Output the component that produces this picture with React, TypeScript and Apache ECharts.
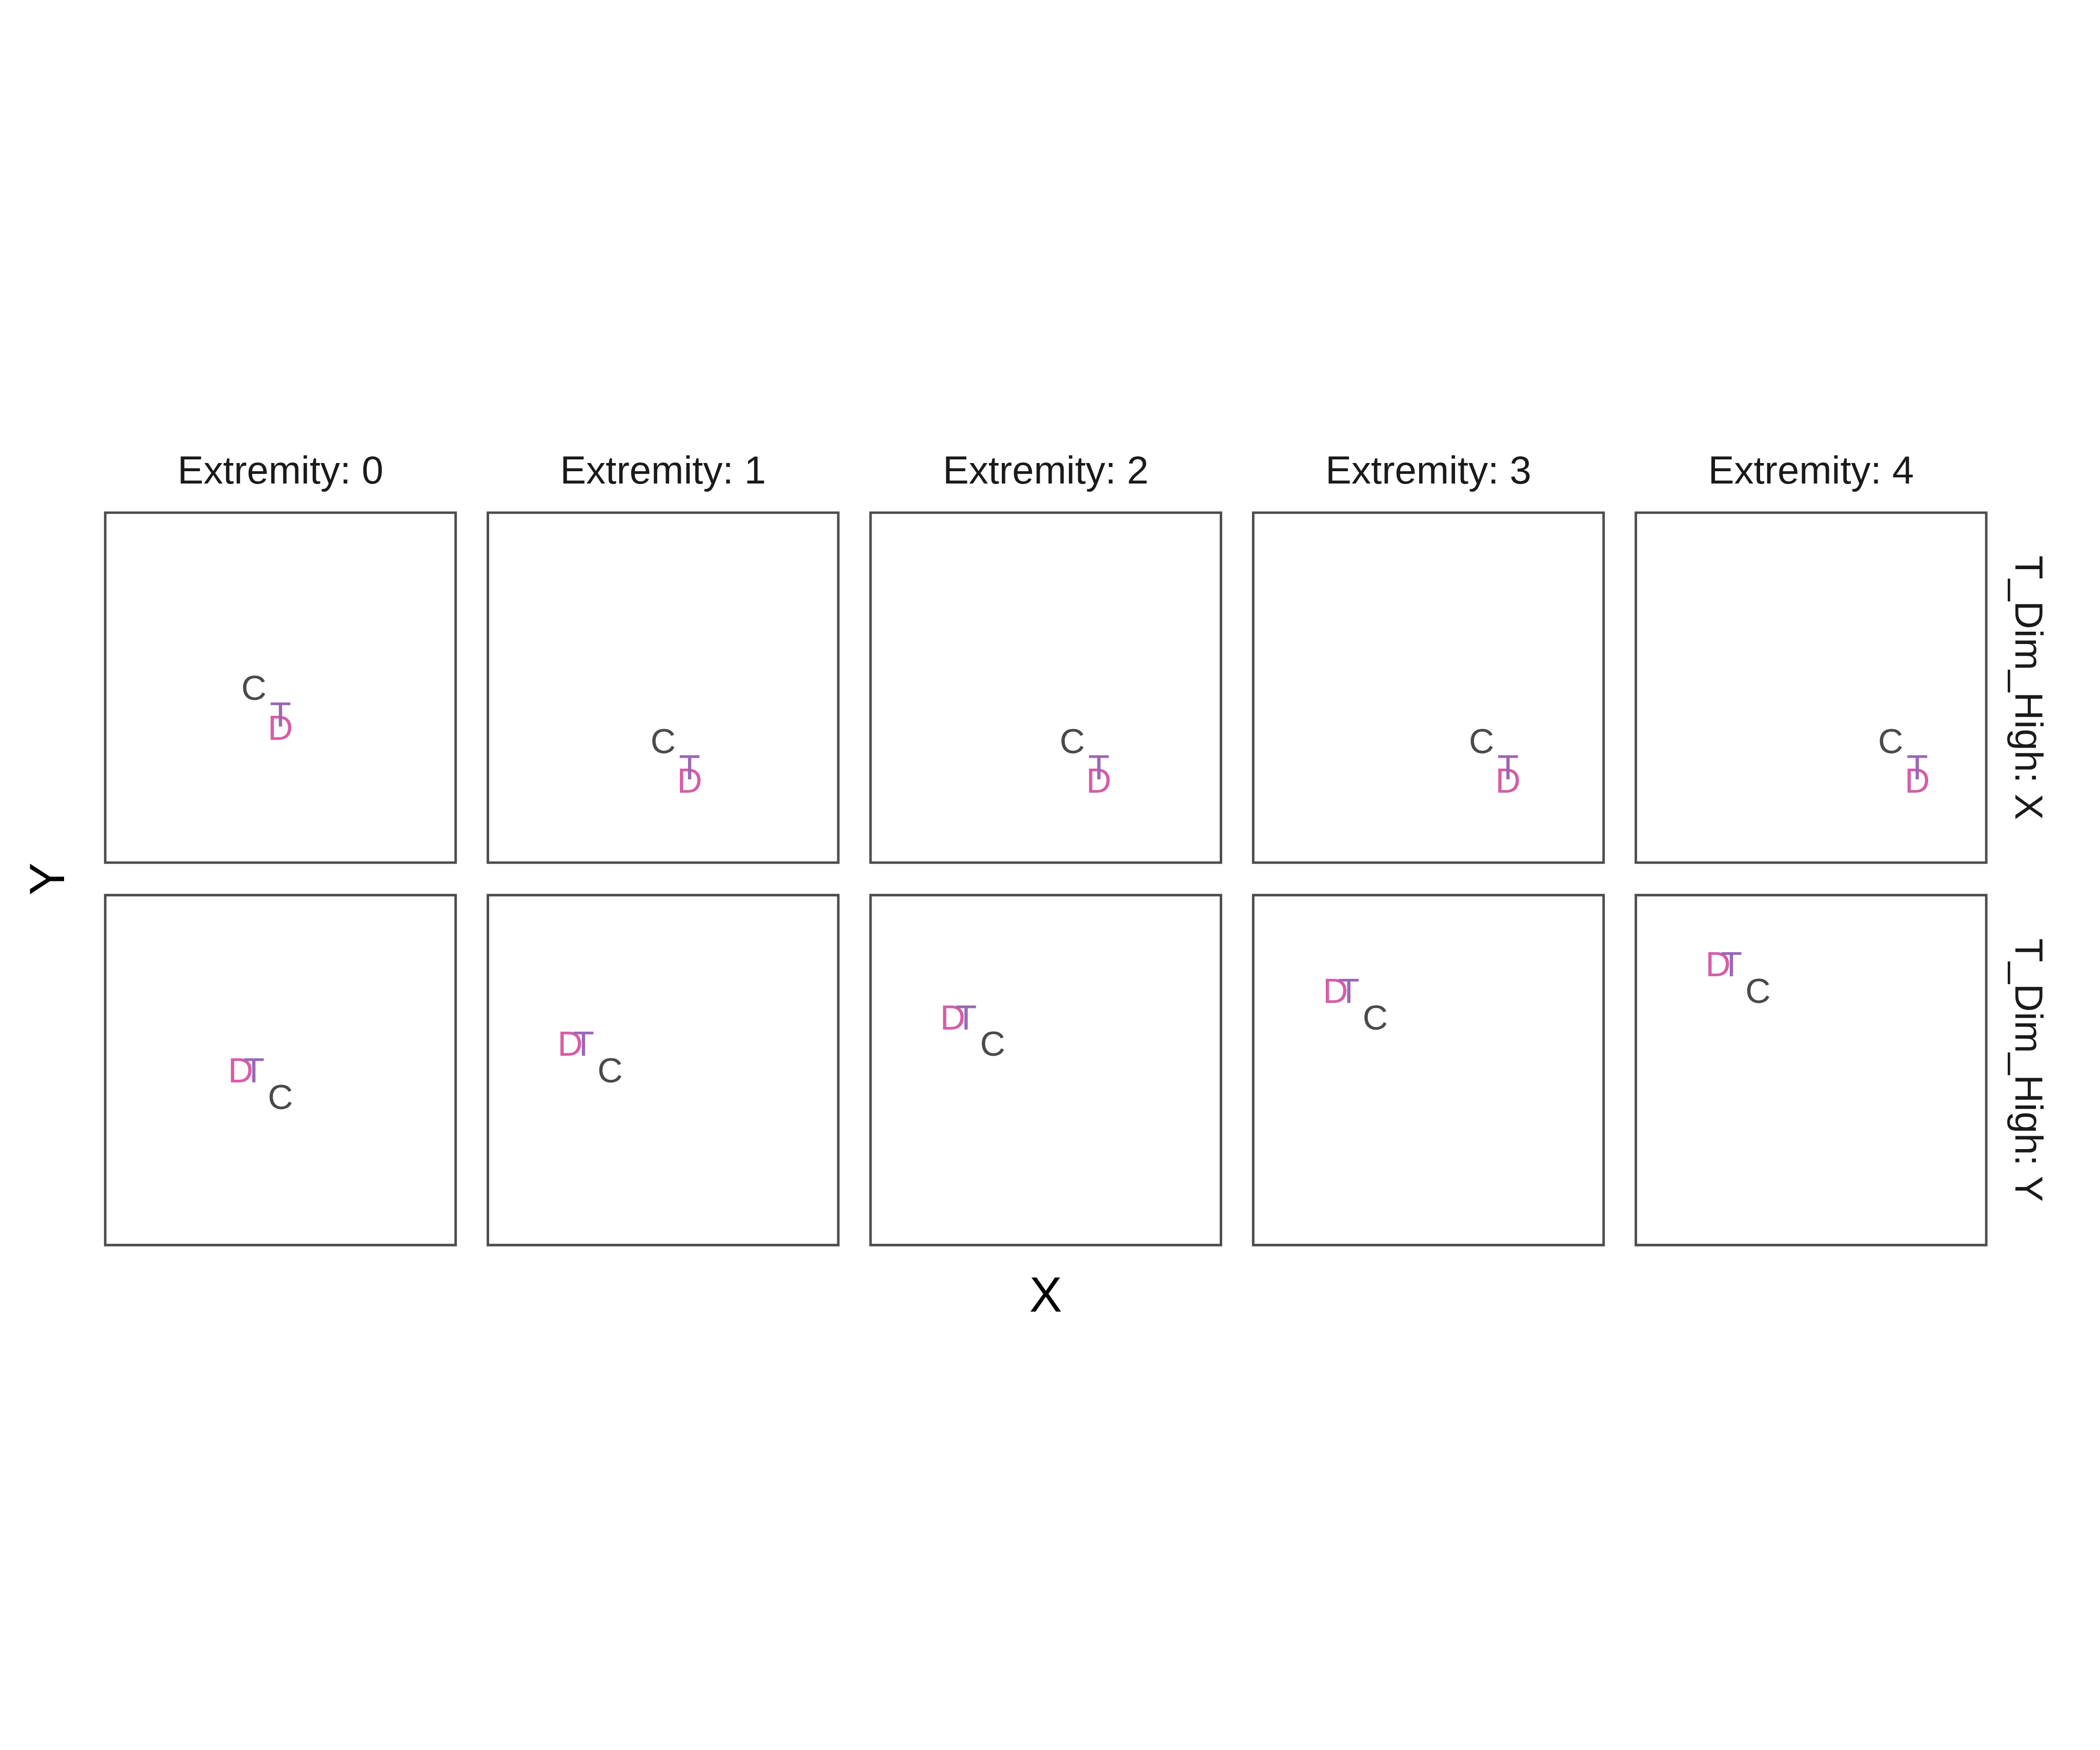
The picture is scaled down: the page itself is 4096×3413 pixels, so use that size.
import React, { useEffect, useRef } from "react";
import * as echarts from "echarts";

// Facets
const extremities = [0, 1, 2, 3, 4];
const rowLevels = ["X", "Y"];
const axisLimits = [0, 12];

// Row "T_Dim_High: X"
const targetX_dimX = [6, 7, 8, 9, 10];
const targetY_dimX = [5, 3, 3, 3, 3];
const compX_dimX = [5, 6, 7, 8, 9];
const compY_dimX = [6, 4, 4, 4, 4];
const decoyX_dimX = [6, 7, 8, 9, 10];
const decoyY_dimX = [4.5, 2.5, 2.5, 2.5, 2.5];

// Row "T_Dim_High: Y"
const targetX_dimY = [5, 3, 3, 3, 3];
const targetY_dimY = [6, 7, 8, 9, 10];
const compX_dimY = [6, 4, 4, 4, 4];
const compY_dimY = [5, 6, 7, 8, 9];
const decoyX_dimY = [4.5, 2.5, 2.5, 2.5, 2.5];
const decoyY_dimY = [6, 7, 8, 9, 10];

const optionLetters = ["D", "T", "C"];
const optionColors = ["#D65DA8", "#9A68B3", "#4A4A4A"];

const S = 0.975;
const FONT = '"Liberation Sans", Arial, Helvetica, sans-serif';

export default function App() {
  const ref = useRef<HTMLDivElement>(null);
  useEffect(() => {
    if (!ref.current) return;
    const chart = echarts.init(ref.current, undefined, { renderer: "svg" });

    const colLeft = (i: number) => (210.5 + 765.5 * i) * S;
    const rowTop = (j: number) => (1025.5 + 765 * j) * S;
    const panelW = 701 * S;
    const panelH = 700 * S;
    const span = axisLimits[1] - axisLimits[0];
    const amin = axisLimits[0] - span * 0.05;
    const amax = axisLimits[1] + span * 0.05;

    const rowData = [
      [
        [decoyX_dimX, decoyY_dimX],
        [targetX_dimX, targetY_dimX],
        [compX_dimX, compY_dimX],
      ],
      [
        [decoyX_dimY, decoyY_dimY],
        [targetX_dimY, targetY_dimY],
        [compX_dimY, compY_dimY],
      ],
    ];

    const grid: any[] = [];
    const xAxis: any[] = [];
    const yAxis: any[] = [];
    const series: any[] = [];
    let idx = 0;
    rowLevels.forEach((_, j) => {
      extremities.forEach((_e, i) => {
        grid.push({
          left: colLeft(i),
          top: rowTop(j),
          width: panelW,
          height: panelH,
          show: true,
          borderColor: "#4D4D4D",
          borderWidth: 5 * S,
          backgroundColor: "transparent",
          containLabel: false,
        });
        xAxis.push({ gridIndex: idx, type: "value", min: amin, max: amax, show: false });
        yAxis.push({ gridIndex: idx, type: "value", min: amin, max: amax, show: false });
        optionLetters.forEach((letter, k) => {
          const [xs, ys] = rowData[j][k];
          series.push({
            type: "scatter",
            xAxisIndex: idx,
            yAxisIndex: idx,
            symbol: "circle",
            symbolSize: 1,
            silent: true,
            itemStyle: { color: "rgba(0,0,0,0)", opacity: 1 },
            data: [[xs[i], ys[i]]],
            label: {
              show: true,
              position: "inside",
              formatter: letter,
              color: optionColors[k],
              opacity: 1,
              textBorderWidth: 0,
              fontSize: 70 * S,
              fontFamily: FONT,
            },
            emphasis: { disabled: true },
          });
        });
        idx++;
      });
    });

    const graphic: any[] = [];
    extremities.forEach((e, i) => {
      graphic.push({
        type: "text",
        x: colLeft(i) + panelW / 2,
        y: 940 * S,
        style: {
          text: "Extremity: " + e,
          fill: "#1A1A1A",
          fontSize: 78 * S,
          fontFamily: FONT,
          align: "center",
          verticalAlign: "middle",
        },
      });
    });
    rowLevels.forEach((r, j) => {
      graphic.push({
        type: "text",
        x: 4058.5 * S,
        y: rowTop(j) + panelH / 2,
        rotation: -Math.PI / 2,
        style: {
          text: "T_Dim_High: " + r,
          fill: "#1A1A1A",
          fontSize: 78 * S,
          fontFamily: FONT,
          align: "center",
          verticalAlign: "middle",
        },
      });
    });
    graphic.push({
      type: "text",
      x: (colLeft(0) + colLeft(4) + panelW) / 2,
      y: 2589.4 * S,
      style: {
        text: "X",
        fill: "#000000",
        fontSize: 98 * S,
        fontFamily: FONT,
        align: "center",
        verticalAlign: "middle",
      },
    });
    graphic.push({
      type: "text",
      x: 94 * S,
      y: (rowTop(0) + rowTop(1) + panelH) / 2,
      rotation: Math.PI / 2,
      style: {
        text: "Y",
        fill: "#000000",
        fontSize: 98 * S,
        fontFamily: FONT,
        align: "center",
        verticalAlign: "middle",
      },
    });

    chart.setOption({
      animation: false,
      backgroundColor: "#FFFFFF",
      grid,
      xAxis,
      yAxis,
      series,
      graphic,
    });
    return () => chart.dispose();
  }, []);

  return (
    <div
      ref={ref}
      style={{ position: "absolute", left: 0, top: 0, width: 4096, height: 3413, background: "#FFFFFF" }}
    />
  );
}
